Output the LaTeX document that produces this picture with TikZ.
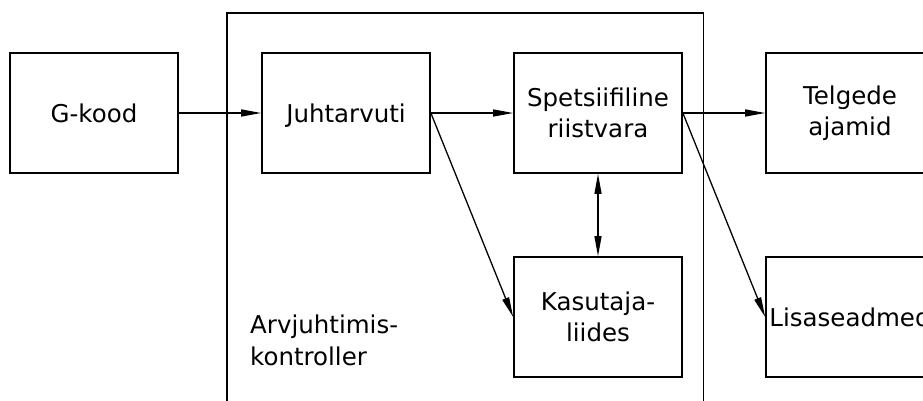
\documentclass[tikz,border=0pt]{standalone}
\usepackage{fontspec}
\setmainfont{DejaVu Sans}
\usetikzlibrary{arrows.meta}
\begin{document}
\begin{tikzpicture}[x=1pt,y=1pt,
  blk/.style={draw, line width=1.7pt, minimum width=168pt, minimum height=120pt, inner sep=0pt, align=center, font=\fontsize{24.5}{30.5}\selectfont},
  conn/.style={line width=1.3pt, -{Triangle[length=20pt,width=7pt]}},
  conn2/.style={line width=1.3pt, {Triangle[length=20pt,width=7pt]}-{Triangle[length=20pt,width=7pt]}}]
\useasboundingbox (0,0) rectangle (923,400);
\fill[white] (0,0) rectangle (923,400);
\begin{scope}
\clip (0,0) rectangle (923,400);
\coordinate (ctrlNW) at (227,387);
\coordinate (ctrlSE) at (703.5,-20);
\draw[line width=1.7pt] (ctrlNW) rectangle (ctrlSE);
\node[blk] (gkood) at (94,287) {G-kood};
\node[blk, text depth=0pt] (juht) at (346,287) {Juhtarvuti};
\node[blk] (spets) at (598,287) {Spetsiifiline\\riistvara};
\node[blk] (telg) at (850,287) {Telgede\\ajamid};
\node[blk] (kasut) at (598,83) {Kasutaja-\\liides};
\node[blk] (lisa) at (850,83) {Lisaseadmed};
\node[anchor=west, inner sep=0pt, align=left, font=\fontsize{24.5}{32.5}\selectfont] (lbl) at (250,59.5) {Arvjuhtimis-\\kontroller};
\draw[conn] (gkood.east) -- (juht.west);
\draw[conn] (juht.east) -- (spets.west);
\draw[conn] (spets.east) -- (telg.west);
\draw[conn] (juht.east) -- (kasut.west);
\draw[conn] (spets.east) -- (lisa.west);
\draw[conn2] (spets.south) -- (kasut.north);
\end{scope}
\end{tikzpicture}
\end{document}
